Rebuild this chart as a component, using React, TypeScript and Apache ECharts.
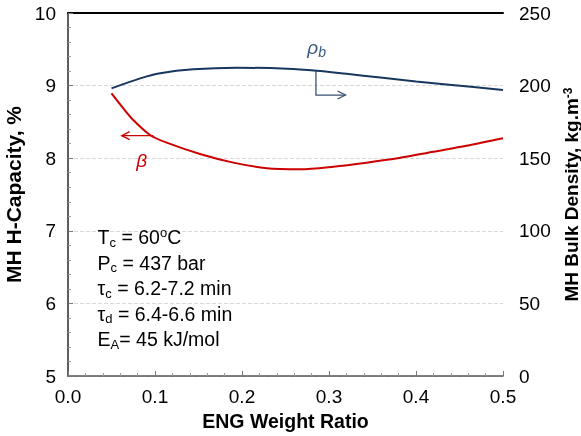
import React, { useEffect, useRef } from "react";
import * as echarts from "echarts";

const xTicks = [0, 0.1, 0.2, 0.3, 0.4, 0.5];
const capacityX = [0.05, 0.0636, 0.075, 0.0943, 0.1134, 0.1517, 0.19, 0.2284, 0.2667, 0.305, 0.343, 0.382, 0.42, 0.458, 0.5];
const capacityY = [8.894, 8.687, 8.526, 8.32, 8.214, 8.058, 7.939, 7.862, 7.848, 7.883, 7.938, 8.006, 8.089, 8.171, 8.275];
const densityX = [0.05, 0.083, 0.106, 0.144, 0.194, 0.252, 0.286, 0.32, 0.359, 0.4, 0.435, 0.5];
const densityY = [198.1, 205.0, 208.5, 211.2, 212.3, 211.6, 210.2, 208.1, 205.6, 202.9, 200.8, 197.0];
const conditions = [
  "T{sub|c} = 60{sup|o}C",
  "P{sub|c} = 437 bar",
  "τ{sub|c} = 6.2-7.2 min",
  "τ{sub|d} = 6.4-6.6 min",
  "E{sub|A}= 45 kJ/mol",
];

const FONT = "Liberation Sans, Arial, sans-serif";
const BLUE = "#17375e";
const RED = "#cc0000";

export default function App() {
  const ref = useRef<HTMLDivElement>(null);
  useEffect(() => {
    if (!ref.current) return;
    const chart = echarts.init(ref.current, null, { renderer: "svg" });
    const option: any = {
      animation: false,
      textStyle: { fontFamily: FONT },
      grid: { left: 68, right: 78, top: 13, bottom: 60, outerBoundsMode: "none", containLabel: false },
      xAxis: [
        {
          type: "value",
          min: 0,
          max: 0.5,
          interval: 0.1,
          name: "ENG Weight Ratio",
          nameLocation: "middle",
          nameGap: 31,
          nameTextStyle: { fontSize: 19.5, fontWeight: "bold", color: "#000", fontFamily: FONT },
          axisLine: { lineStyle: { color: "#555", width: 1.5 } },
          axisTick: { inside: true, length: 5, lineStyle: { color: "#777" } },
          minorTick: { show: true, splitNumber: 5, length: 3, lineStyle: { color: "#999" } },
          splitLine: { show: false },
          axisLabel: {
            fontSize: 19,
            color: "#000",
            margin: 11,
            fontFamily: FONT,
            formatter: (v: number) => v.toFixed(1),
          },
        },
        {
          type: "value",
          position: "top",
          min: 0,
          max: 0.5,
          axisLine: { show: true, lineStyle: { color: "#000", width: 2 } },
          axisTick: { show: false },
          axisLabel: { show: false },
          splitLine: { show: false },
        },
      ],
      yAxis: [
        {
          type: "value",
          min: 5,
          max: 10,
          interval: 1,
          name: "MH H-Capacity, %",
          nameLocation: "middle",
          nameRotate: 90,
          nameGap: 37,
          nameTextStyle: { fontSize: 21, fontWeight: "bold", color: "#000", fontFamily: FONT },
          axisLine: { show: true, lineStyle: { color: "#555", width: 1.5 } },
          axisTick: { inside: true, length: 5, lineStyle: { color: "#777" } },
          minorTick: { show: true, splitNumber: 5, length: 3, lineStyle: { color: "#999" } },
          splitLine: { show: true, lineStyle: { color: "#d9d9d9", type: "dashed", width: 1 } },
          axisLabel: { fontSize: 19, color: "#000", margin: 12, fontFamily: FONT },
        },
        {
          type: "value",
          min: 0,
          max: 250,
          interval: 50,
          position: "right",
          name: "MH Bulk Density, kg.m{sup|-3}",
          nameLocation: "middle",
          nameRotate: 90,
          nameGap: 47,
          nameTextStyle: {
            fontSize: 19,
            fontWeight: "bold",
            color: "#000",
            fontFamily: FONT,
            rich: { sup: { fontSize: 12, fontWeight: "bold", padding: [0, 0, 8, 0] } },
          },
          axisLine: { show: true, lineStyle: { color: "#555", width: 1.5 } },
          axisTick: { show: false },
          splitLine: { show: false },
          axisLabel: { fontSize: 19, color: "#000", margin: 16, fontFamily: FONT },
        },
      ],
      series: [
        {
          type: "line",
          name: "capacity",
          xAxisIndex: 0,
          yAxisIndex: 0,
          smooth: 0.3,
          showSymbol: false,
          lineStyle: { color: RED, width: 2 },
          data: capacityX.map((x, i) => [x, capacityY[i]]),
        },
        {
          type: "line",
          name: "density",
          xAxisIndex: 0,
          yAxisIndex: 1,
          smooth: 0.3,
          showSymbol: false,
          lineStyle: { color: BLUE, width: 2 },
          data: densityX.map((x, i) => [x, densityY[i]]),
        },
      ],
    };
    chart.setOption(option);

    const p = (x: number, y: number, yi = 0) =>
      chart.convertToPixel({ xAxisIndex: 0, yAxisIndex: yi }, [x, y]) as number[];

    const dA = p(0.285, 210.2, 1);
    const dB = p(0.285, 193.5, 1);
    const dC = p(0.319, 193.5, 1);
    const cA = p(0.098, 8.31, 0);
    const cB = p(0.0617, 8.31, 0);
    const rhoPos = p(0.275, 226, 1);
    const betaPos = p(0.0847, 7.975, 0);
    const textPos = p(0.034, 7.09, 0);

    chart.setOption({
      graphic: [
        {
          type: "polyline",
          shape: { points: [dA, dB, dC] },
          style: { stroke: "#3a5270", lineWidth: 1.3, fill: null },
        },
        {
          type: "polyline",
          shape: { points: [[dC[0] - 8, dC[1] - 4], dC, [dC[0] - 8, dC[1] + 4]] },
          style: { stroke: "#3a5270", lineWidth: 1.3, fill: null },
        },
        {
          type: "line",
          shape: { x1: cA[0], y1: cA[1], x2: cB[0], y2: cB[1] },
          style: { stroke: RED, lineWidth: 1.3 },
        },
        {
          type: "polyline",
          shape: { points: [[cB[0] + 8, cB[1] - 4], cB, [cB[0] + 8, cB[1] + 4]] },
          style: { stroke: RED, lineWidth: 1.3, fill: null },
        },
        {
          type: "text",
          x: rhoPos[0],
          y: rhoPos[1],
          style: {
            text: "ρ{sub|b}",
            fill: "#3a5a80",
            font: `italic 19px ${FONT}`,
            rich: { sub: { fontSize: 14, fontStyle: "italic", fill: "#3a5a80", padding: [9, 0, 0, 0] } },
            verticalAlign: "middle",
          },
        },
        {
          type: "text",
          x: betaPos[0],
          y: betaPos[1],
          style: {
            text: "β",
            fill: RED,
            font: `italic 19px ${FONT}`,
            align: "center",
            verticalAlign: "middle",
          },
        },
        {
          type: "text",
          x: textPos[0],
          y: textPos[1],
          style: {
            text: conditions.join("\n"),
            fill: "#000",
            font: `19.5px ${FONT}`,
            lineHeight: 25.5,
            verticalAlign: "top",
            rich: {
              sub: { fontSize: 13, fill: "#000", padding: [10, 0, 0, 0], lineHeight: 25.5 },
              sup: { fontSize: 13, fill: "#000", padding: [0, 0, 9, 0], lineHeight: 25.5 },
            },
          },
        },
      ],
    });

    return () => chart.dispose();
  }, []);
  return <div ref={ref} style={{ position: "fixed", left: 0, top: 0, width: 581, height: 436 }} />;
}
